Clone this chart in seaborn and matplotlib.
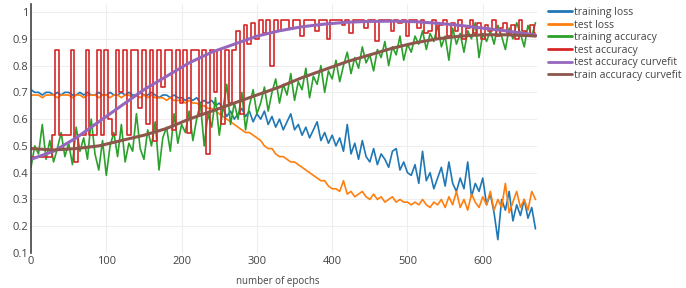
import numpy as np
import pandas as pd
from matplotlib import pyplot as plt
from matplotlib.ticker import FuncFormatter
import seaborn as sns

# epochs sampled every 5 for the noisy curves
epochs = np.arange(0, 671, 5)

training_loss = [
    0.71, 0.70, 0.70, 0.69, 0.70, 0.70, 0.69, 0.70, 0.69, 0.70,
    0.70, 0.69, 0.69, 0.70, 0.69, 0.70, 0.69, 0.69, 0.70, 0.69,
    0.69, 0.70, 0.69, 0.69, 0.70, 0.69, 0.70, 0.69, 0.69, 0.70,
    0.69, 0.69, 0.70, 0.69, 0.68, 0.69, 0.69, 0.68, 0.69, 0.68,
    0.68, 0.67, 0.68, 0.67, 0.68, 0.66, 0.67, 0.66, 0.67, 0.65,
    0.66, 0.64, 0.61, 0.63, 0.60, 0.62, 0.64, 0.61, 0.63, 0.59,
    0.62, 0.60, 0.63, 0.58, 0.61, 0.57, 0.60, 0.56, 0.59, 0.62,
    0.56, 0.58, 0.54, 0.57, 0.53, 0.56, 0.59, 0.52, 0.55, 0.51,
    0.54, 0.50, 0.53, 0.48, 0.58, 0.47, 0.51, 0.45, 0.52, 0.46,
    0.44, 0.49, 0.43, 0.47, 0.45, 0.42, 0.48, 0.49, 0.41, 0.44,
    0.40, 0.39, 0.43, 0.36, 0.48, 0.37, 0.40, 0.34, 0.38, 0.42,
    0.35, 0.44, 0.36, 0.33, 0.38, 0.34, 0.44, 0.31, 0.36, 0.33,
    0.38, 0.28, 0.32, 0.25, 0.15, 0.30, 0.26, 0.33, 0.22, 0.28,
    0.24, 0.30, 0.23, 0.27, 0.19,
]

test_loss = [
    0.69, 0.69, 0.69, 0.68, 0.69, 0.69, 0.69, 0.68, 0.69, 0.69,
    0.69, 0.68, 0.69, 0.69, 0.68, 0.69, 0.69, 0.69, 0.68, 0.69,
    0.69, 0.68, 0.69, 0.69, 0.68, 0.69, 0.69, 0.68, 0.69, 0.68,
    0.69, 0.68, 0.69, 0.68, 0.68, 0.68, 0.67, 0.68, 0.67, 0.67,
    0.67, 0.66, 0.67, 0.66, 0.66, 0.65, 0.65, 0.64, 0.64, 0.63,
    0.62, 0.61, 0.60, 0.59, 0.58, 0.57, 0.56, 0.55, 0.55, 0.54,
    0.53, 0.52, 0.50, 0.49, 0.49, 0.47, 0.46, 0.46, 0.45, 0.44,
    0.44, 0.43, 0.42, 0.41, 0.40, 0.39, 0.38, 0.37, 0.37, 0.35,
    0.34, 0.34, 0.33, 0.37, 0.32, 0.33, 0.31, 0.32, 0.33, 0.31,
    0.30, 0.32, 0.30, 0.31, 0.29, 0.30, 0.31, 0.29, 0.30, 0.29,
    0.29, 0.28, 0.29, 0.28, 0.30, 0.28, 0.27, 0.29, 0.28, 0.30,
    0.27, 0.31, 0.28, 0.33, 0.27, 0.30, 0.26, 0.32, 0.29, 0.27,
    0.31, 0.28, 0.33, 0.26, 0.30, 0.27, 0.36, 0.25, 0.29, 0.33,
    0.27, 0.30, 0.26, 0.33, 0.30,
]

training_accuracy = [
    0.42, 0.50, 0.47, 0.58, 0.45, 0.52, 0.44, 0.49, 0.55, 0.46,
    0.51, 0.43, 0.57, 0.48, 0.53, 0.45, 0.60, 0.47, 0.41, 0.52,
    0.39, 0.50, 0.55, 0.46, 0.58, 0.44, 0.51, 0.48, 0.62, 0.49,
    0.45, 0.56, 0.50, 0.59, 0.41, 0.53, 0.57, 0.48, 0.62, 0.51,
    0.58, 0.55, 0.63, 0.52, 0.60, 0.66, 0.50, 0.62, 0.57, 0.68,
    0.54, 0.64, 0.73, 0.58, 0.66, 0.60, 0.70, 0.56, 0.65, 0.71,
    0.62, 0.66, 0.72, 0.63, 0.70, 0.75, 0.66, 0.73, 0.69, 0.77,
    0.67, 0.74, 0.71, 0.79, 0.68, 0.76, 0.73, 0.80, 0.70, 0.78,
    0.75, 0.82, 0.74, 0.80, 0.85, 0.77, 0.83, 0.79, 0.87, 0.81,
    0.84, 0.78, 0.86, 0.83, 0.89, 0.80, 0.87, 0.84, 0.91, 0.82,
    0.88, 0.85, 0.91, 0.88, 0.93, 0.86, 0.92, 0.89, 0.95, 0.87,
    0.91, 0.82, 0.94, 0.88, 0.92, 0.85, 0.93, 0.90, 0.96, 0.83,
    0.92, 0.89, 0.93, 0.88, 0.95, 0.91, 0.86, 0.94, 0.90, 0.96,
    0.92, 0.87, 0.95, 0.91, 0.96,
]

test_accuracy = [
    0.46, 0.46, 0.46, 0.46, 0.46, 0.46, 0.54, 0.86, 0.54, 0.54,
    0.54, 0.86, 0.44, 0.54, 0.54, 0.86, 0.54, 0.54, 0.86, 0.54,
    0.86, 0.60, 0.54, 0.86, 0.70, 0.86, 0.54, 0.86, 0.86, 0.64,
    0.86, 0.58, 0.86, 0.52, 0.86, 0.72, 0.86, 0.86, 0.56, 0.86,
    0.66, 0.86, 0.55, 0.86, 0.86, 0.62, 0.86, 0.47, 0.86, 0.70,
    0.86, 0.58, 0.86, 0.66, 0.86, 0.93, 0.62, 0.95, 0.88, 0.96,
    0.90, 0.97, 0.92, 0.97, 0.80, 0.97, 0.93, 0.97, 0.97, 0.94,
    0.97, 0.97, 0.91, 0.97, 0.97, 0.97, 0.93, 0.97, 0.97, 0.90,
    0.97, 0.97, 0.97, 0.95, 0.97, 0.92, 0.97, 0.97, 0.97, 0.94,
    0.97, 0.97, 0.89, 0.97, 0.97, 0.97, 0.93, 0.97, 0.96, 0.97,
    0.91, 0.97, 0.97, 0.94, 0.97, 0.92, 0.93, 0.97, 0.90, 0.95,
    0.97, 0.91, 0.96, 0.93, 0.97, 0.90, 0.94, 0.97, 0.92, 0.96,
    0.90, 0.95, 0.93, 0.97, 0.91, 0.94, 0.96, 0.92, 0.95, 0.90,
    0.97, 0.93, 0.91, 0.95, 0.92,
]

# smooth fitted curves, read every 30 epochs
fit_epochs = [0, 30, 60, 90, 120, 150, 180, 210, 240, 270, 300, 330,
              360, 390, 420, 450, 480, 510, 540, 570, 600, 630, 660, 670]
test_accuracy_fit = [0.45, 0.48, 0.53, 0.59, 0.65, 0.71, 0.76, 0.81, 0.85, 0.88,
                     0.91, 0.93, 0.945, 0.955, 0.962, 0.965, 0.966, 0.964, 0.958,
                     0.95, 0.94, 0.93, 0.918, 0.914]
train_accuracy_fit = [0.49, 0.485, 0.49, 0.50, 0.52, 0.54, 0.565, 0.60, 0.63, 0.66,
                      0.69, 0.72, 0.755, 0.785, 0.815, 0.84, 0.865, 0.885, 0.90,
                      0.91, 0.915, 0.915, 0.912, 0.91]

names = ["training loss", "test loss", "training accuracy", "test accuracy",
         "test accuracy curvefit", "train accuracy curvefit"]

sns.set_style("white")
plt.rcParams["font.family"] = ["Open Sans", "DejaVu Sans"]

clrs = sns.color_palette("tab10", 6)

fig = plt.figure(figsize=(6.86, 2.88), dpi=100)
ax = fig.add_axes([31 / 686, 1 - 253 / 288, (537 - 31) / 686, (253 - 4) / 288])

noisy = [training_loss, test_loss, training_accuracy, test_accuracy]
for name, values, clr in zip(names[:4], noisy, clrs[:4]):
    df = pd.DataFrame({"epoch": epochs, "value": values})
    extra = {"drawstyle": "steps-mid"} if name == "test accuracy" else {}
    sns.lineplot(data=df, x="epoch", y="value", color=clr, linewidth=1.2,
                 label=name, ax=ax, **extra)

fits = pd.DataFrame({"epoch": fit_epochs, "test": test_accuracy_fit, "train": train_accuracy_fit})
sns.lineplot(data=fits, x="epoch", y="test", color=clrs[4], linewidth=2.2, label=names[4], ax=ax)
sns.lineplot(data=fits, x="epoch", y="train", color=clrs[5], linewidth=2.2, label=names[5], ax=ax)

ax.set_xlim(0, 672)
ax.set_ylim(0.1, 1.03)
ax.set_xticks(range(0, 601, 100))
ax.set_yticks(np.arange(0.1, 1.01, 0.1))
ax.yaxis.set_major_formatter(FuncFormatter(lambda v, p: "%g" % round(v, 1)))
ax.set_xlabel("")
ax.set_ylabel("")
ax.grid(True, color="#eeeeee", linewidth=0.8)
ax.set_axisbelow(True)
for side in ["top", "right", "bottom"]:
    ax.spines[side].set_visible(False)
ax.spines["left"].set_color("#444444")
ax.spines["left"].set_linewidth(1.2)
ax.tick_params(length=0, labelsize=8, colors="#444444", pad=2)

leg = ax.legend(loc="upper left", bbox_to_anchor=(548 / 686, 1 - 7 / 288),
                bbox_transform=fig.transFigure, frameon=False, fontsize=7.5,
                handlelength=2.3, handletextpad=0.15, labelspacing=0.15,
                borderaxespad=0, borderpad=0)
for line in leg.get_lines():
    line.set_linewidth(2.0)
for txt in leg.get_texts():
    txt.set_color("#444444")

fig.text(278 / 686, 1 / 288, "number of epochs", ha="center", va="bottom",
         fontsize=7, color="#444444")

fig.savefig("out.png", dpi=100)
